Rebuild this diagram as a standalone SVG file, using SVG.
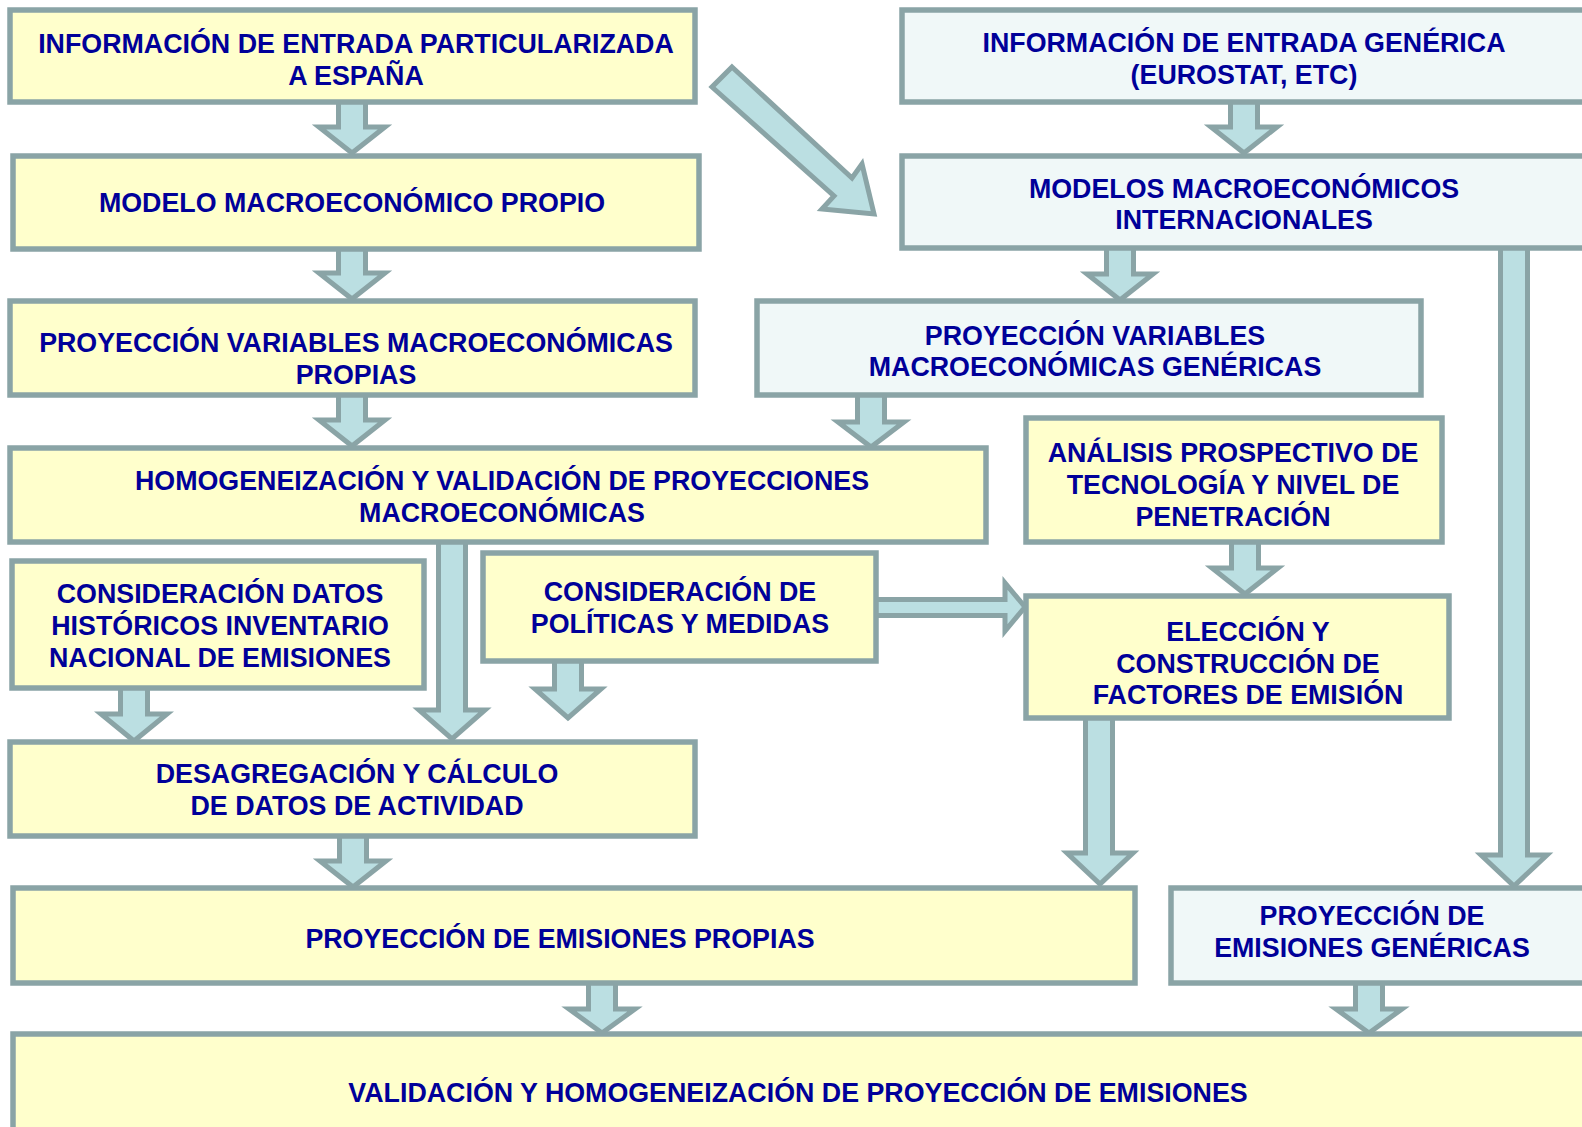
<svg xmlns="http://www.w3.org/2000/svg" width="1582" height="1127" viewBox="0 0 1582 1127">
<style>
.y{fill:#ffffcc;stroke:#8aa4a6;stroke-width:5.5}
.c{fill:#f0f8f8;stroke:#8aa4a6;stroke-width:5.5}
.a{fill:#bbdfe2;stroke:#8aa4a6;stroke-width:5;stroke-linejoin:miter}
text{font-family:"Liberation Sans",Arial,sans-serif;font-weight:bold;font-size:26.8px;fill:#000099;text-anchor:middle}
</style>
<rect width="1582" height="1127" fill="#ffffff"/>
<g id="connectors">
<path class="a" d="M338.5,100 V127 H319 L352,153 L385,127 H365.5 V100 Z"/>
<path class="a" d="M338.5,247 V273 H319 L352,299 L385,273 H365.5 V247 Z"/>
<path class="a" d="M338.5,394 V420 H319 L352,446 L385,420 H365.5 V394 Z"/>
<path class="a" d="M857.5,394 V422 H838 L871,447 L904,422 H884.5 V394 Z"/>
<path class="a" d="M1230.5,100 V127 H1211 L1244,153 L1277,127 H1257.5 V100 Z"/>
<path class="a" d="M1106.5,246 V274 H1087 L1120,300 L1153,274 H1133.5 V246 Z"/>
<path class="a" d="M1500.5,246 V855 H1481 L1514,886 L1547,855 H1527.5 V246 Z"/>
<path class="a" d="M438.5,541 V710 H419 L452,739 L485,710 H465.5 V541 Z"/>
<path class="a" d="M120.5,687 V714 H101 L134,741 L167,714 H147.5 V687 Z"/>
<path class="a" d="M554.5,659 V689 H535 L568,718 L601,689 H581.5 V659 Z"/>
<path class="a" d="M1231.5,541 V568 H1212 L1245,594 L1278,568 H1258.5 V541 Z"/>
<path class="a" d="M1085.5,716 V853 H1067 L1100,884 L1133,853 H1112.5 V716 Z"/>
<path class="a" d="M339.5,834 V861 H320 L353,887 L386,861 H366.5 V834 Z"/>
<path class="a" d="M588.5,981 V1009 H569 L602,1033 L635,1009 H615.5 V981 Z"/>
<path class="a" d="M1355.5,981 V1009 H1336 L1369,1033 L1402,1009 H1382.5 V981 Z"/>
<path class="a" d="M874,599.5 H1005 V583 L1025,607 L1005,631 V615.5 H874 Z"/>
<path class="a" d="M732,67 L852,178 L862,164 L874,214 L822,209 L834,196 L712,87 Z"/>
</g>
<g id="nA"><rect class="y" x="10" y="10" width="685" height="92"/>
<text x="356" y="53">INFORMACIÓN DE ENTRADA PARTICULARIZADA</text><text x="356" y="85">A ESPAÑA</text></g>
<g id="nB"><rect class="y" x="13" y="156" width="686" height="93"/>
<text x="352" y="212">MODELO MACROECONÓMICO PROPIO</text></g>
<g id="nC"><rect class="y" x="10" y="301" width="685" height="94"/>
<text x="356" y="352">PROYECCIÓN VARIABLES MACROECONÓMICAS</text><text x="356" y="384">PROPIAS</text></g>
<g id="nD"><rect class="y" x="10" y="448" width="976" height="94"/>
<text x="502" y="490">HOMOGENEIZACIÓN Y VALIDACIÓN DE PROYECCIONES</text><text x="502" y="522">MACROECONÓMICAS</text></g>
<g id="nE"><rect class="y" x="12" y="561" width="412" height="127"/>
<text x="220" y="603">CONSIDERACIÓN DATOS</text><text x="220" y="635">HISTÓRICOS INVENTARIO</text><text x="220" y="667">NACIONAL DE EMISIONES</text></g>
<g id="nF"><rect class="y" x="483" y="553" width="393" height="108"/>
<text x="680" y="601">CONSIDERACIÓN DE</text><text x="680" y="633">POLÍTICAS Y MEDIDAS</text></g>
<g id="nG"><rect class="y" x="10" y="742" width="685" height="94"/>
<text x="357" y="783">DESAGREGACIÓN Y CÁLCULO</text><text x="357" y="815">DE DATOS DE ACTIVIDAD</text></g>
<g id="nH"><rect class="y" x="13" y="888" width="1122" height="95"/>
<text x="560" y="948">PROYECCIÓN DE EMISIONES PROPIAS</text></g>
<g id="nI"><rect class="y" x="13" y="1034" width="1580" height="100"/>
<text x="798" y="1102">VALIDACIÓN Y HOMOGENEIZACIÓN DE PROYECCIÓN DE EMISIONES</text></g>
<g id="nJ"><rect class="c" x="902" y="10" width="690" height="92"/>
<text x="1244" y="52">INFORMACIÓN DE ENTRADA GENÉRICA</text><text x="1244" y="84">(EUROSTAT, ETC)</text></g>
<g id="nK"><rect class="c" x="902" y="156" width="690" height="92"/>
<text x="1244" y="198">MODELOS MACROECONÓMICOS</text><text x="1244" y="229">INTERNACIONALES</text></g>
<g id="nL"><rect class="c" x="757" y="301" width="664" height="94"/>
<text x="1095" y="345">PROYECCIÓN VARIABLES</text><text x="1095" y="376">MACROECONÓMICAS GENÉRICAS</text></g>
<g id="nM"><rect class="y" x="1026" y="418" width="416" height="124"/>
<text x="1233" y="462">ANÁLISIS PROSPECTIVO DE</text><text x="1233" y="494">TECNOLOGÍA Y NIVEL DE</text><text x="1233" y="526">PENETRACIÓN</text></g>
<g id="nN"><rect class="y" x="1026" y="596" width="423" height="122"/>
<text x="1248" y="641">ELECCIÓN Y</text><text x="1248" y="673">CONSTRUCCIÓN DE</text><text x="1248" y="704">FACTORES DE EMISIÓN</text></g>
<g id="nO"><rect class="c" x="1171" y="888" width="420" height="95"/>
<text x="1372" y="925">PROYECCIÓN DE</text><text x="1372" y="957">EMISIONES GENÉRICAS</text></g>
</svg>
